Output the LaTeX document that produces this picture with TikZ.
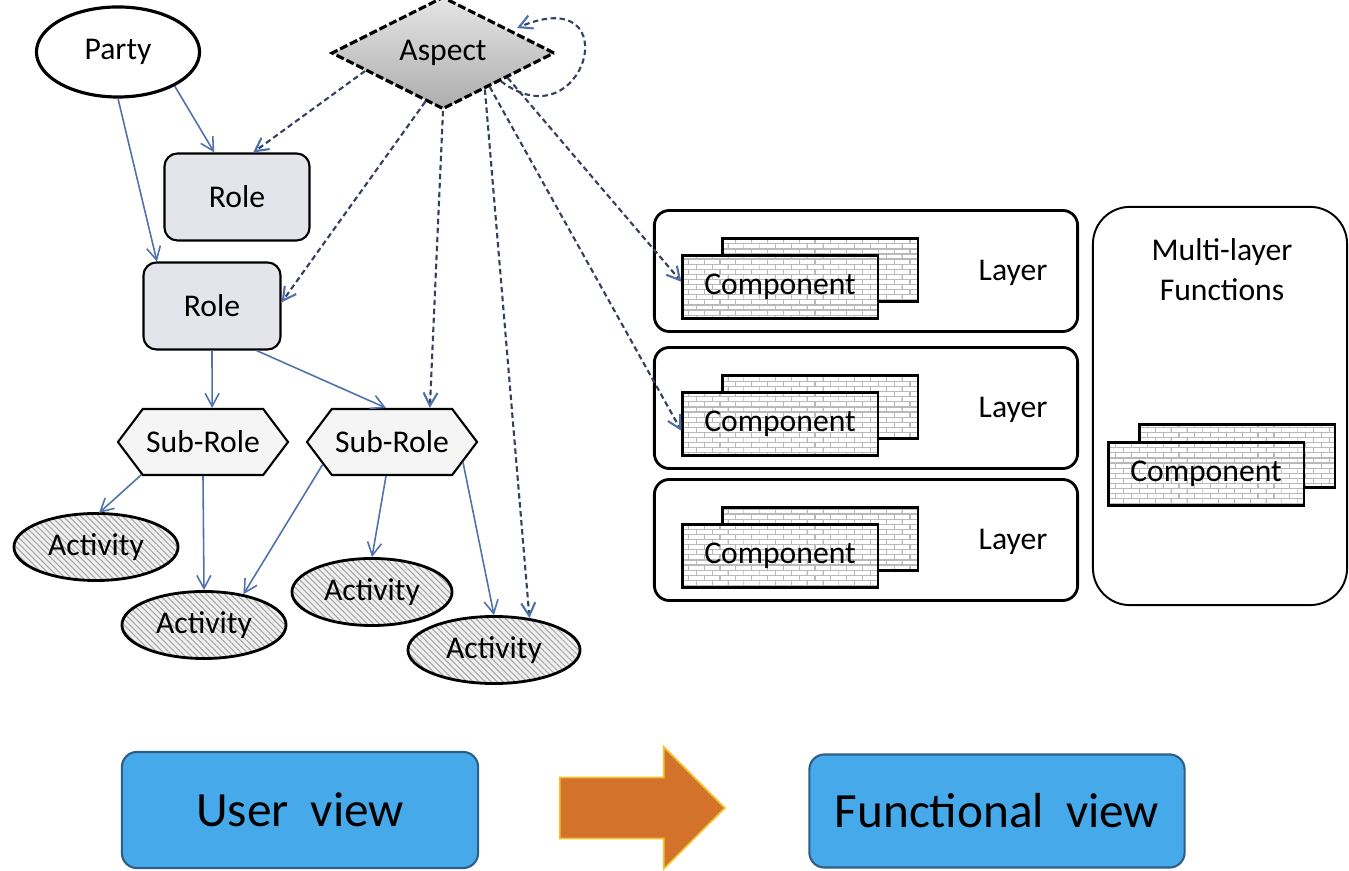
\documentclass[tikz,border=0pt]{standalone}
\usepackage{fontspec}
\setmainfont{Carlito}
\usepackage{xcolor}
\usetikzlibrary{arrows.meta,positioning,shapes.geometric,shapes.symbols,shapes.arrows,patterns,patterns.meta}

\definecolor{linkblue}{HTML}{4F72AC}
\definecolor{dashnavy}{HTML}{34405E}
\definecolor{viewblue}{HTML}{45A9EA}
\definecolor{viewedge}{HTML}{2D5F86}
\definecolor{shiftorange}{HTML}{D2722B}
\definecolor{shiftedge}{HTML}{F2C230}
\definecolor{rolegray}{HTML}{E4E5EA}

% small brick texture for the components
\pgfdeclarepatternformonly{smallbricks}{\pgfpoint{-0.1pt}{-0.1pt}}{\pgfpoint{4.6pt}{3pt}}{\pgfpoint{4.5pt}{2.9pt}}{%
  \pgfsetlinewidth{0.35pt}
  \pgfpathmoveto{\pgfpoint{0pt}{0pt}}\pgfpathlineto{\pgfpoint{4.5pt}{0pt}}
  \pgfpathmoveto{\pgfpoint{0pt}{1.45pt}}\pgfpathlineto{\pgfpoint{4.5pt}{1.45pt}}
  \pgfpathmoveto{\pgfpoint{0pt}{0pt}}\pgfpathlineto{\pgfpoint{0pt}{1.45pt}}
  \pgfpathmoveto{\pgfpoint{2.25pt}{1.45pt}}\pgfpathlineto{\pgfpoint{2.25pt}{2.9pt}}
  \pgfusepath{stroke}}

\tikzset{
  link/.style={draw=linkblue, line width=0.45pt, -{Straight Barb[length=1.3mm,width=1.4mm]}},
  aspectlink/.style={draw=dashnavy, line width=0.6pt, dash pattern=on 0.55mm off 0.35mm,
    -{Straight Barb[length=1.3mm,width=1.4mm,color=linkblue]}},
  party/.style={ellipse, draw, line width=0.9pt, minimum width=1.63cm, minimum height=0.9cm},
  role/.style={rectangle, rounded corners=1.3mm, draw, line width=0.6pt, fill=rolegray,
    minimum width=1.45cm, minimum height=0.87cm},
  subrole/.style={signal, signal to=west and east, signal pointer angle=106, draw,
    line width=0.6pt, fill=gray!8, minimum width=1.7cm, minimum height=0.66cm, inner sep=0pt},
  activity/.style={ellipse, draw, line width=0.8pt, preaction={fill=gray!12},
    pattern={Lines[angle=-45,distance=1.2pt,line width=0.3pt]}, pattern color=gray!70,
    minimum width=1.64cm, minimum height=0.67cm, inner sep=0pt},
  aspect/.style={diamond, draw, line width=0.9pt, dash pattern=on 0.8mm off 0.3mm,
    top color=gray!20, bottom color=gray!65, minimum width=2.23cm, minimum height=0.9cm, inner sep=0pt},
  layerbox/.style={rectangle, rounded corners=1.5mm, draw, line width=0.8pt,
    minimum width=4.23cm, minimum height=1.21cm},
  multibox/.style={rectangle, rounded corners=3.7mm, draw, line width=0.55pt,
    minimum width=2.54cm, minimum height=3.98cm},
  comp/.style={rectangle, draw, line width=0.6pt, preaction={fill=white}, pattern=smallbricks,
    pattern color=gray!55, minimum width=1.95cm, minimum height=0.63cm, inner sep=0pt},
  view/.style={rectangle, rounded corners=1.5mm, draw=viewedge, line width=0.6pt, fill=viewblue,
    minimum width=3.56cm, minimum height=1.16cm, font=\fontsize{14}{16}\selectfont},
}

\begin{document}
\begin{tikzpicture}[x=0.01cm, y=-0.01cm, font=\fontsize{9}{11.3}\selectfont]
\useasboundingbox (0,0) rectangle (1349,871);

% user view: nodes
\node[party] (party) at (118,52) {Party};
\node[aspect] (asp) at (443,53) {Aspect};
\node[role] (roleA) at (237,197) {Role};
\node[role, minimum width=1.37cm] (roleB) at (212,306) {Role};
\node[subrole] (sub1) at (203,442) {Sub-Role};
\node[subrole] (sub2) at (392,442) {Sub-Role};
\node[activity] (act1) at (96,547) {Activity};
\node[activity] (act2) at (204,625) {Activity};
\node[activity, minimum width=1.6cm] (act3) at (372,592) {Activity};
\node[activity, minimum width=1.72cm] (act4) at (494,650) {Activity};

% functional view: layers and components
\foreach \i/\y in {1/271,2/408,3/540}{
  \node[layerbox] (layer\i) at (866,\y) {};
  \node[comp] (compback\i) at (820,\y-1) {};
  \node[comp] (comp\i) at (780,\y+16) {Component};
  \node (layerlabel\i) at (1013,\y+2) {Layer};
}
\node[multibox] (multi) at (1220,406) {};
\node[align=center] (multilabel) at (1222,270) {Multi-layer\\Functions};
\node[comp] (compmback) at (1237,456) {};
\node[comp] (compm) at (1206,474) {Component};

% solid links
\draw[link] (party.-31) -- (roleA.117);
\draw[link] (party.south) -- (roleB.141);
\draw[link] (roleB.south) -- (sub1.75);
\draw[link] (roleB.-45) -- (sub2.100);
\draw[link] (sub1.208) -- (act1.85);
\draw[link] (sub1.south) -- (act2.north);
\draw[link] (sub2.198) -- (act2.38);
\draw[link] (sub2.-100) -- (act3.north);
\draw[link] (sub2.-16) -- (act4.north);

% aspect links
\draw[aspectlink] (asp.193) -- (roleA.70);
\draw[aspectlink] (asp.250) -- (roleB.3);
\draw[aspectlink] (asp.south) -- (sub2.42);
\draw[aspectlink] (asp.-41) -- (act4.42);
\draw[aspectlink] (asp.-36) -- (comp2.184);
\draw[aspectlink] (asp.-21) -- (comp1.177);
\coordinate (looptip) at (517,28);
\draw[aspectlink] (asp.-26) .. controls (585,145) and (630,-20) .. (looptip);

% bottom: views
\node[view] (user) at (300,810) {User\hspace{0.45em}view};
\node[view, minimum width=3.75cm, minimum height=1.13cm] (func) at (997,811) {Functional\hspace{0.45em}view};
\node[single arrow, fill=shiftorange, draw=shiftedge, line width=0.5pt, inner xsep=0pt,
  inner ysep=0.295cm, minimum height=1.65cm, single arrow head extend=0.305cm] (shift) at (627,808) {};
\end{tikzpicture}
\end{document}
